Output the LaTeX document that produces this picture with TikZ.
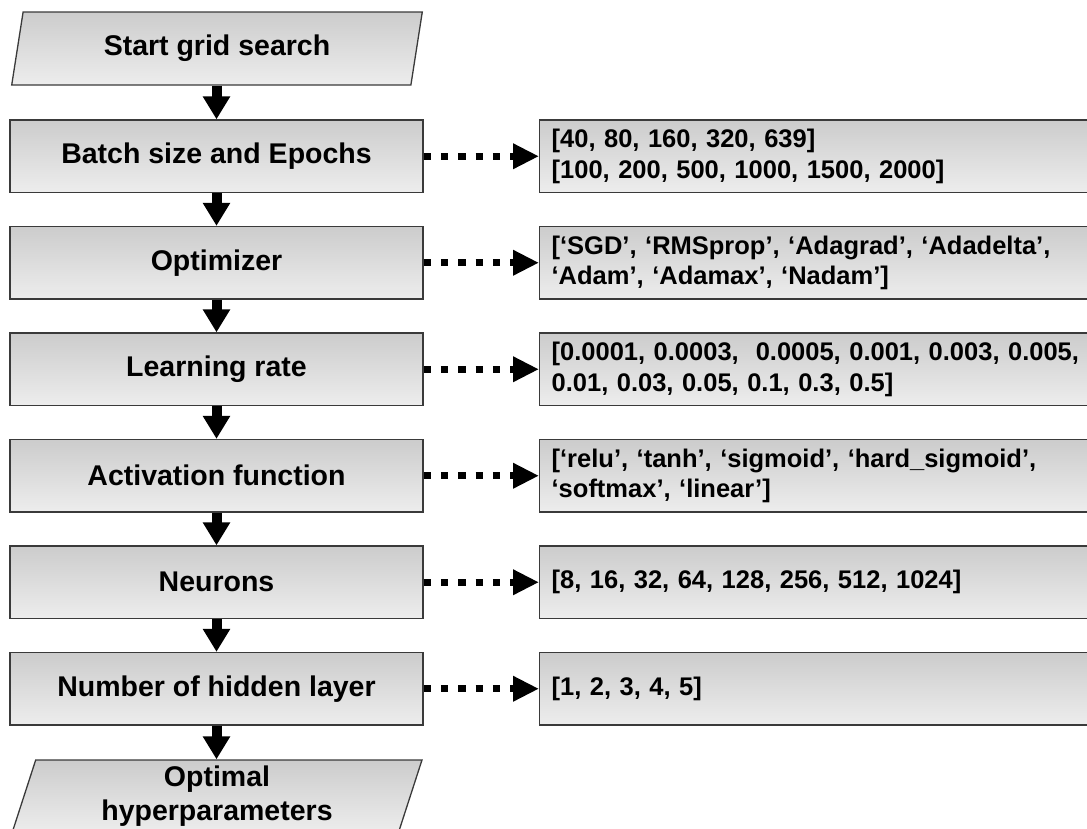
\documentclass[tikz,border=0pt]{standalone}
\usepackage{fontspec}
\setmainfont{Liberation Sans}
\usetikzlibrary{shapes.geometric,arrows.meta}
\definecolor{edge}{HTML}{3A3A3A}
\definecolor{shadetop}{HTML}{CCCCCC}
\definecolor{shadebot}{HTML}{EDEDED}
\begin{document}
\begin{tikzpicture}[x=1pt,y=-1pt,
  panel/.style={draw=edge, line width=1.3pt, top color=shadetop, bottom color=shadebot},
  stepbox/.style={panel, rectangle, minimum width=413pt, minimum height=72.5pt, inner sep=0pt,
    font=\bfseries\fontsize{28.5}{32}\selectfont},
  termbox/.style={panel, trapezium, trapezium left angle=76, trapezium right angle=104,
    trapezium stretches=true, minimum width=411pt, minimum height=73pt, inner sep=0pt,
    align=center, font=\bfseries\fontsize{28.5}{34}\selectfont},
  valbox/.style={panel, rectangle, anchor=west, minimum height=72.5pt, text width=600pt,
    inner xsep=12pt, inner ysep=0pt, align=left, font=\bfseries\fontsize{25.5}{30.6}\selectfont},
  flow/.style={line width=10pt, -{Triangle[length=23pt,width=26pt]}},
  option/.style={line width=7.3pt, dash pattern=on 7.3pt off 10pt, -{Triangle[length=26pt,width=24pt]}}
]
\useasboundingbox (0,0) rectangle (1087,828);
\clip (0,0) rectangle (1087,828);

% grid-search steps
\node[termbox] (start) at (217,48.5) {Start grid search};
\node[stepbox] (batch) at (216.5,156.25) {Batch size and Epochs};
\node[stepbox] (opt)   at (216.5,262.75) {Optimizer};
\node[stepbox] (lr)    at (216.5,369.25) {Learning rate};
\node[stepbox] (act)   at (216.5,475.75) {Activation function};
\node[stepbox] (neu)   at (216.5,582.25) {Neurons};
\node[stepbox] (hid)   at (216.5,688.75) {Number of hidden layer};
\node[termbox] (final) at (217,796.5) {Optimal\\hyperparameters};

% candidate values for each step
\node[valbox] (batchv) at (539,156.25) {[40, 80, 160, 320, 639]\\{}[100, 200, 500, 1000, 1500, 2000]};
\node[valbox] (optv)   at (539,262.75) {{}[‘SGD’, ‘RMSprop’, ‘Adagrad’, ‘Adadelta’,\\‘Adam’, ‘Adamax’, ‘Nadam’]};
\node[valbox] (lrv)    at (539,369.25) {{}[0.0001, 0.0003,\ \ 0.0005, 0.001, 0.003, 0.005,\\0.01, 0.03, 0.05, 0.1, 0.3, 0.5]};
\node[valbox] (actv)   at (539,475.75) {{}[‘relu’, ‘tanh’, ‘sigmoid’, ‘hard\_sigmoid’,\\‘softmax’, ‘linear’]};
\node[valbox] (neuv)   at (539,582.25) {{}[8, 16, 32, 64, 128, 256, 512, 1024]};
\node[valbox] (hidv)   at (539,688.75) {{}[1, 2, 3, 4, 5]};

% main flow
\draw[flow] (batch.north |- start.south) -- (batch.north);
\draw[flow] (batch) -- (opt);
\draw[flow] (opt) -- (lr);
\draw[flow] (lr) -- (act);
\draw[flow] (act) -- (neu);
\draw[flow] (neu) -- (hid);
\draw[flow] (hid.south) -- (hid.south |- final.north);

% links to the searched values
\draw[option] (batch.east) -- (batchv.west);
\draw[option] (opt.east) -- (optv.west);
\draw[option] (lr.east) -- (lrv.west);
\draw[option] (act.east) -- (actv.west);
\draw[option] (neu.east) -- (neuv.west);
\draw[option] (hid.east) -- (hidv.west);
\end{tikzpicture}
\end{document}
